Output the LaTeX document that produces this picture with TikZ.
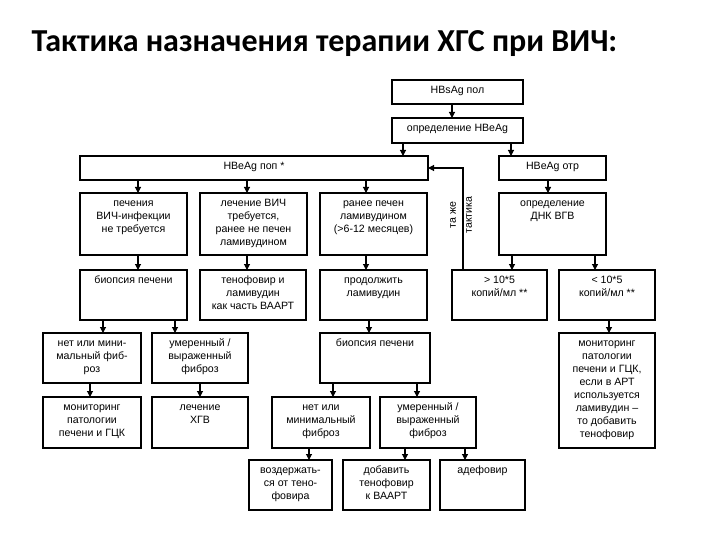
\documentclass[tikz,border=0pt]{standalone}
\usepackage{fontspec}
\setmainfont{Liberation Sans}
\newfontfamily\ttl{Carlito}
\usetikzlibrary{arrows.meta}
\newcommand{\bx}[6]{%
 \node[box,minimum width={#4-#2},minimum height={#5-#3}] (#1) at ({(#2+#4)/2},{(#3+#5)/2}) {};
 \node[txt,anchor=north] at ([yshift=-4]#1.north) {\rule{0pt}{9pt}#6};}
\newcommand{\ar}[4]{\draw[arr] ([xshift=#3]#1.south west) -- ([xshift=#4]#2.north west);}
\begin{document}
\begin{tikzpicture}[x=1pt,y=-1pt,
 box/.style={draw,line width=1.1pt,outer sep=0pt,inner sep=0pt},
 txt/.style={align=center,font=\fontsize{10.6}{13}\selectfont,inner sep=0pt},
 arr/.style={line width=1.1pt,-{Triangle[length=6pt,width=6pt]}}]
\useasboundingbox (0,0) rectangle (720,540);
\node[anchor=west,font=\ttl\bfseries\fontsize{32}{36}\selectfont] (title) at (28,44) {Тактика назначения терапии ХГС при ВИЧ:};
\bx{a}{392}{80}{523}{104}{HBsAg пол}
\bx{b}{392}{118}{523}{143}{определение HBeAg}
\bx{pos}{80}{156}{428}{180}{HBeAg поп *}
\bx{neg}{499}{156}{606}{180}{HBeAg отр}
\bx{c1}{80}{193}{187}{255}{печения\\ВИЧ-инфекции\\не требуется}
\bx{c2}{200}{193}{307}{255}{лечение ВИЧ\\требуется,\\ранее не печен\\ламивудином}
\bx{c3}{320}{193}{427}{255}{ранее печен\\ламивудином\\(>6-12 месяцев)}
\bx{dnk}{499}{193}{606}{255}{определение\\ДНК ВГВ}
\bx{d1}{80}{270}{187}{320}{биопсия печени}
\bx{d2}{200}{270}{306}{320}{тенофовир и\\ламивудин\\как часть ВААРТ}
\bx{d3}{320}{270}{427}{320}{продолжить\\ламивудин}
\bx{hi}{452}{270}{547}{320}{> 10*5\\копий/мл **}
\bx{lo}{559}{270}{655}{320}{< 10*5\\копий/мл **}
\bx{e1}{43}{333}{141}{383}{нет или мини-\\мальный фиб-\\роз}
\bx{e2}{152}{333}{248}{383}{умеренный /\\выраженный\\фиброз}
\bx{e3}{320}{333}{430}{383}{биопсия печени}
\bx{mon}{559}{333}{655}{448}{мониторинг\\патологии\\печени и ГЦК,\\если в АРТ\\используется\\ламивудин –\\то добавить\\тенофовир}
\bx{f1}{43}{397}{141}{448}{мониторинг\\патологии\\печени и ГЦК}
\bx{f2}{152}{397}{248}{448}{лечение\\ХГВ}
\bx{f3}{272}{397}{370}{448}{нет или\\минимальный\\фиброз}
\bx{f4}{380}{397}{476}{448}{умеренный /\\выраженный\\фиброз}
\bx{g1}{249}{460}{332}{510}{воздержать-\\ся от тено-\\фовира}
\bx{g2}{343}{460}{430}{510}{добавить\\тенофовир\\к ВААРТ}
\bx{g3}{440}{460}{525}{510}{адефовир}
\ar{a}{b}{60}{60}
\ar{b}{pos}{11}{323}
\ar{b}{neg}{119}{12}
\ar{pos}{c1}{58}{58}
\ar{pos}{c2}{167}{47}
\ar{pos}{c3}{286}{46}
\ar{neg}{dnk}{49}{49}
\ar{c1}{d1}{58}{58}
\ar{c2}{d2}{47}{47}
\ar{c3}{d3}{46}{46}
\ar{dnk}{hi}{13}{60}
\ar{dnk}{lo}{96}{36}
\ar{d1}{e1}{23}{60}
\ar{d1}{e2}{95}{23}
\ar{d3}{e3}{49}{49}
\ar{lo}{mon}{50}{50}
\ar{e1}{f1}{47}{47}
\ar{e2}{f2}{48}{48}
\ar{e3}{f3}{13}{61}
\ar{e3}{f4}{97}{37}
\ar{f3}{g1}{37}{60}
\ar{f4}{g2}{25}{62}
\ar{f4}{g3}{85}{25}
\draw[arr] ([xshift=11]hi.north west) |- (pos.east |- 0,168);
\node[txt,rotate=90,font=\fontsize{10.6}{16}\selectfont] (tt) at (461,215) {та же\\тактика};
\end{tikzpicture}
\end{document}
